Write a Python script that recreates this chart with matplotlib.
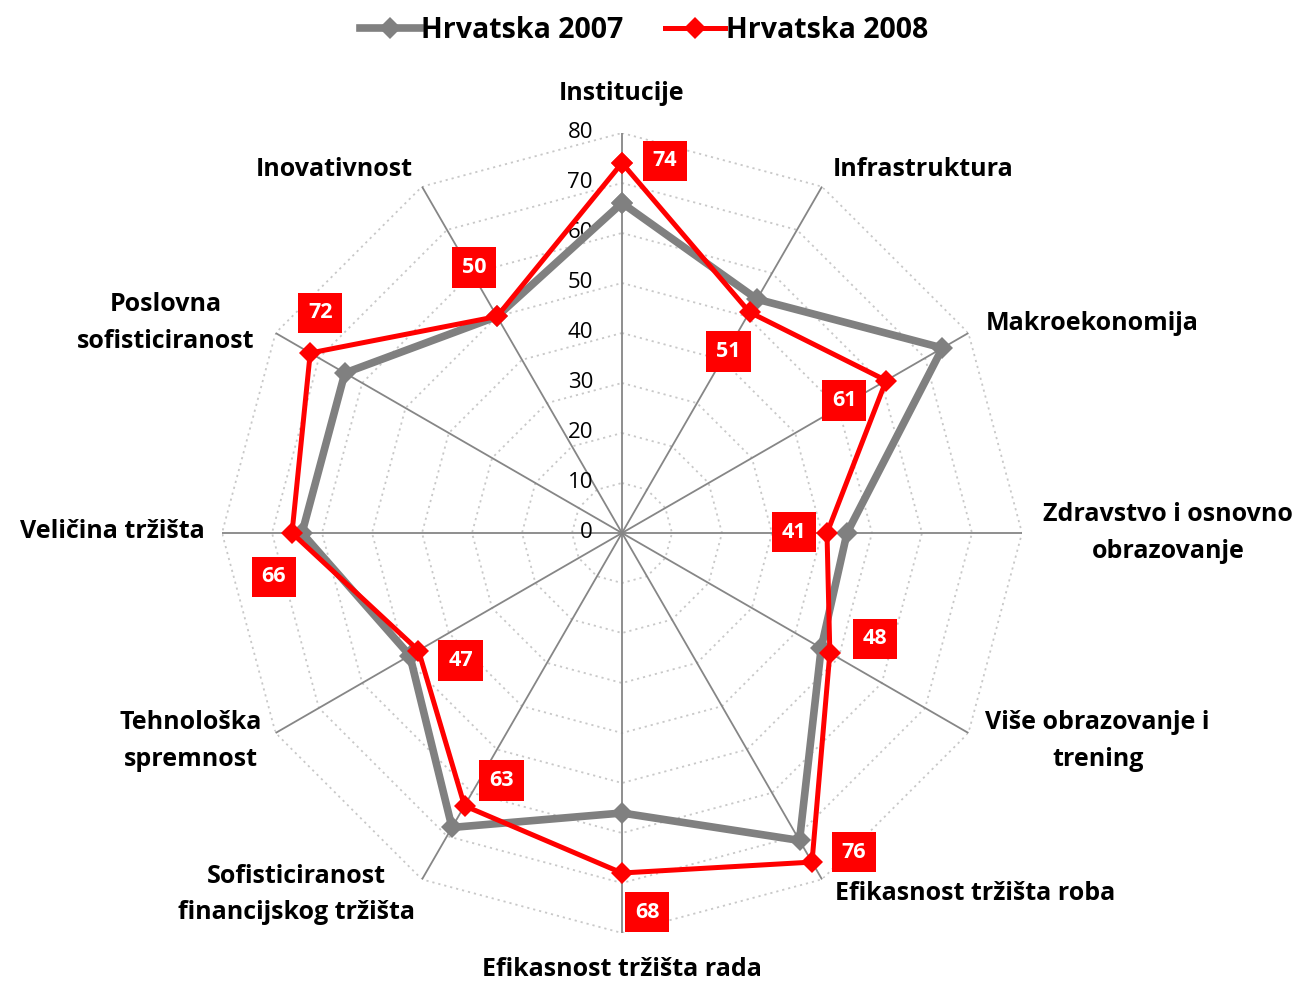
import matplotlib
matplotlib.use("Agg")
import matplotlib.pyplot as plt
import numpy as np

plt.rcParams['font.family'] = ['Open Sans', 'DejaVu Sans']

categories = ["Institucije", "Infrastruktura", "Makroekonomija",
              "Zdravstvo i osnovno\nobrazovanje", "Više obrazovanje i\ntrening",
              "Efikasnost tržišta roba", "Efikasnost tržišta rada",
              "Sofisticiranost\nfinancijskog tržišta", "Tehnološka\nspremnost",
              "Veličina tržišta", "Poslovna\nsofisticiranost", "Inovativnost"]
hr_2007 = [66, 54, 74, 45, 46, 71, 56, 68, 49, 64, 64, 50]
hr_2008 = [74, 51, 61, 41, 48, 76, 68, 63, 47, 66, 72, 50]
r_ticks = [0, 10, 20, 30, 40, 50, 60, 70, 80]

# label placement (pixel offsets from the spoke end / data point)
cat_offsets = [(0, 40, 'center'), (11, 17, 'left'), (17, 10, 'left'), (21, 0, 'left'),
               (17, -8, 'left'), (13, -14, 'left'), (0, -37, 'center'), (-7, -15, 'right'),
               (-14, -8, 'right'), (-17, 2, 'right'), (-21, 10, 'right'), (-9, 17, 'right')]
val_offsets = [(43, 2), (-21, -39), (-42, -20), (-33, 1), (45, 14), (42, 10),
               (25, -39), (37, 25), (42, -10), (-18, -44), (10, 40), (-23, 49)]

GRAY = '#808080'
RED = '#ff0000'

n = len(categories)
theta = np.arange(n) * 2 * np.pi / n
theta_c = np.append(theta, theta[0])

fig = plt.figure(figsize=(13.04, 9.84), dpi=100)
cx, cy = 622 / 1304, 1 - 533 / 984
rw, rh = 400 / 1304, 400 / 984
ax = fig.add_axes([cx - rw, cy - rh, 2 * rw, 2 * rh], projection='polar')
ax.set_theta_zero_location('N')
ax.set_theta_direction(-1)
ax.set_ylim(0, 80)
ax.grid(False)
ax.set_xticks([])
ax.set_yticks([])
ax.spines['polar'].set_visible(False)
ax.patch.set_alpha(0)

# polygon grid
for v in r_ticks[1:]:
    ax.plot(theta_c, [v] * (n + 1), linestyle=(0, (1.2, 2.2)), color='#c8c8c8', lw=1.3, zorder=1)
for t in theta:
    ax.plot([t, t], [0, 80], color='#868686', lw=1.3, zorder=2)

# radial labels
for v in r_ticks:
    ax.annotate(str(v), xy=(0, v), xytext=(-29, 0), textcoords='offset pixels',
                ha='right', va='center', fontsize=16, color='black', zorder=3)

# series
l07, = ax.plot(theta_c, hr_2007 + hr_2007[:1], color=GRAY, lw=5.5, marker='D', ms=11,
               mew=0, zorder=4, label='Hrvatska 2007')
l08, = ax.plot(theta_c, hr_2008 + hr_2008[:1], color=RED, lw=3.6, marker='D', ms=11,
               mew=0, zorder=5, label='Hrvatska 2008')

# category labels
for t, name, (dx, dy, ha) in zip(theta, categories, cat_offsets):
    ax.annotate(name, xy=(t, 80), xytext=(dx, dy), textcoords='offset pixels',
                ha=ha, va='center', multialignment='center', fontsize=18,
                fontweight='bold', linespacing=1.6, annotation_clip=False)

# data labels
for t, v, (dx, dy) in zip(theta, hr_2008, val_offsets):
    ax.annotate(str(v), xy=(t, v), xytext=(dx, dy), textcoords='offset pixels',
                ha='center', va='center', fontsize=15.5, fontweight='bold', color='white',
                bbox=dict(boxstyle='square,pad=0.46', fc=RED, ec='none'), zorder=6)

fig.legend(handles=[l07, l08], loc='center', bbox_to_anchor=(0.494, 1 - 30 / 984),
           ncol=2, frameon=False, handlelength=2.1, handletextpad=0.05, columnspacing=1.45,
           prop=dict(size=20.5, weight='bold'))

fig.savefig('out.png', dpi=100)
